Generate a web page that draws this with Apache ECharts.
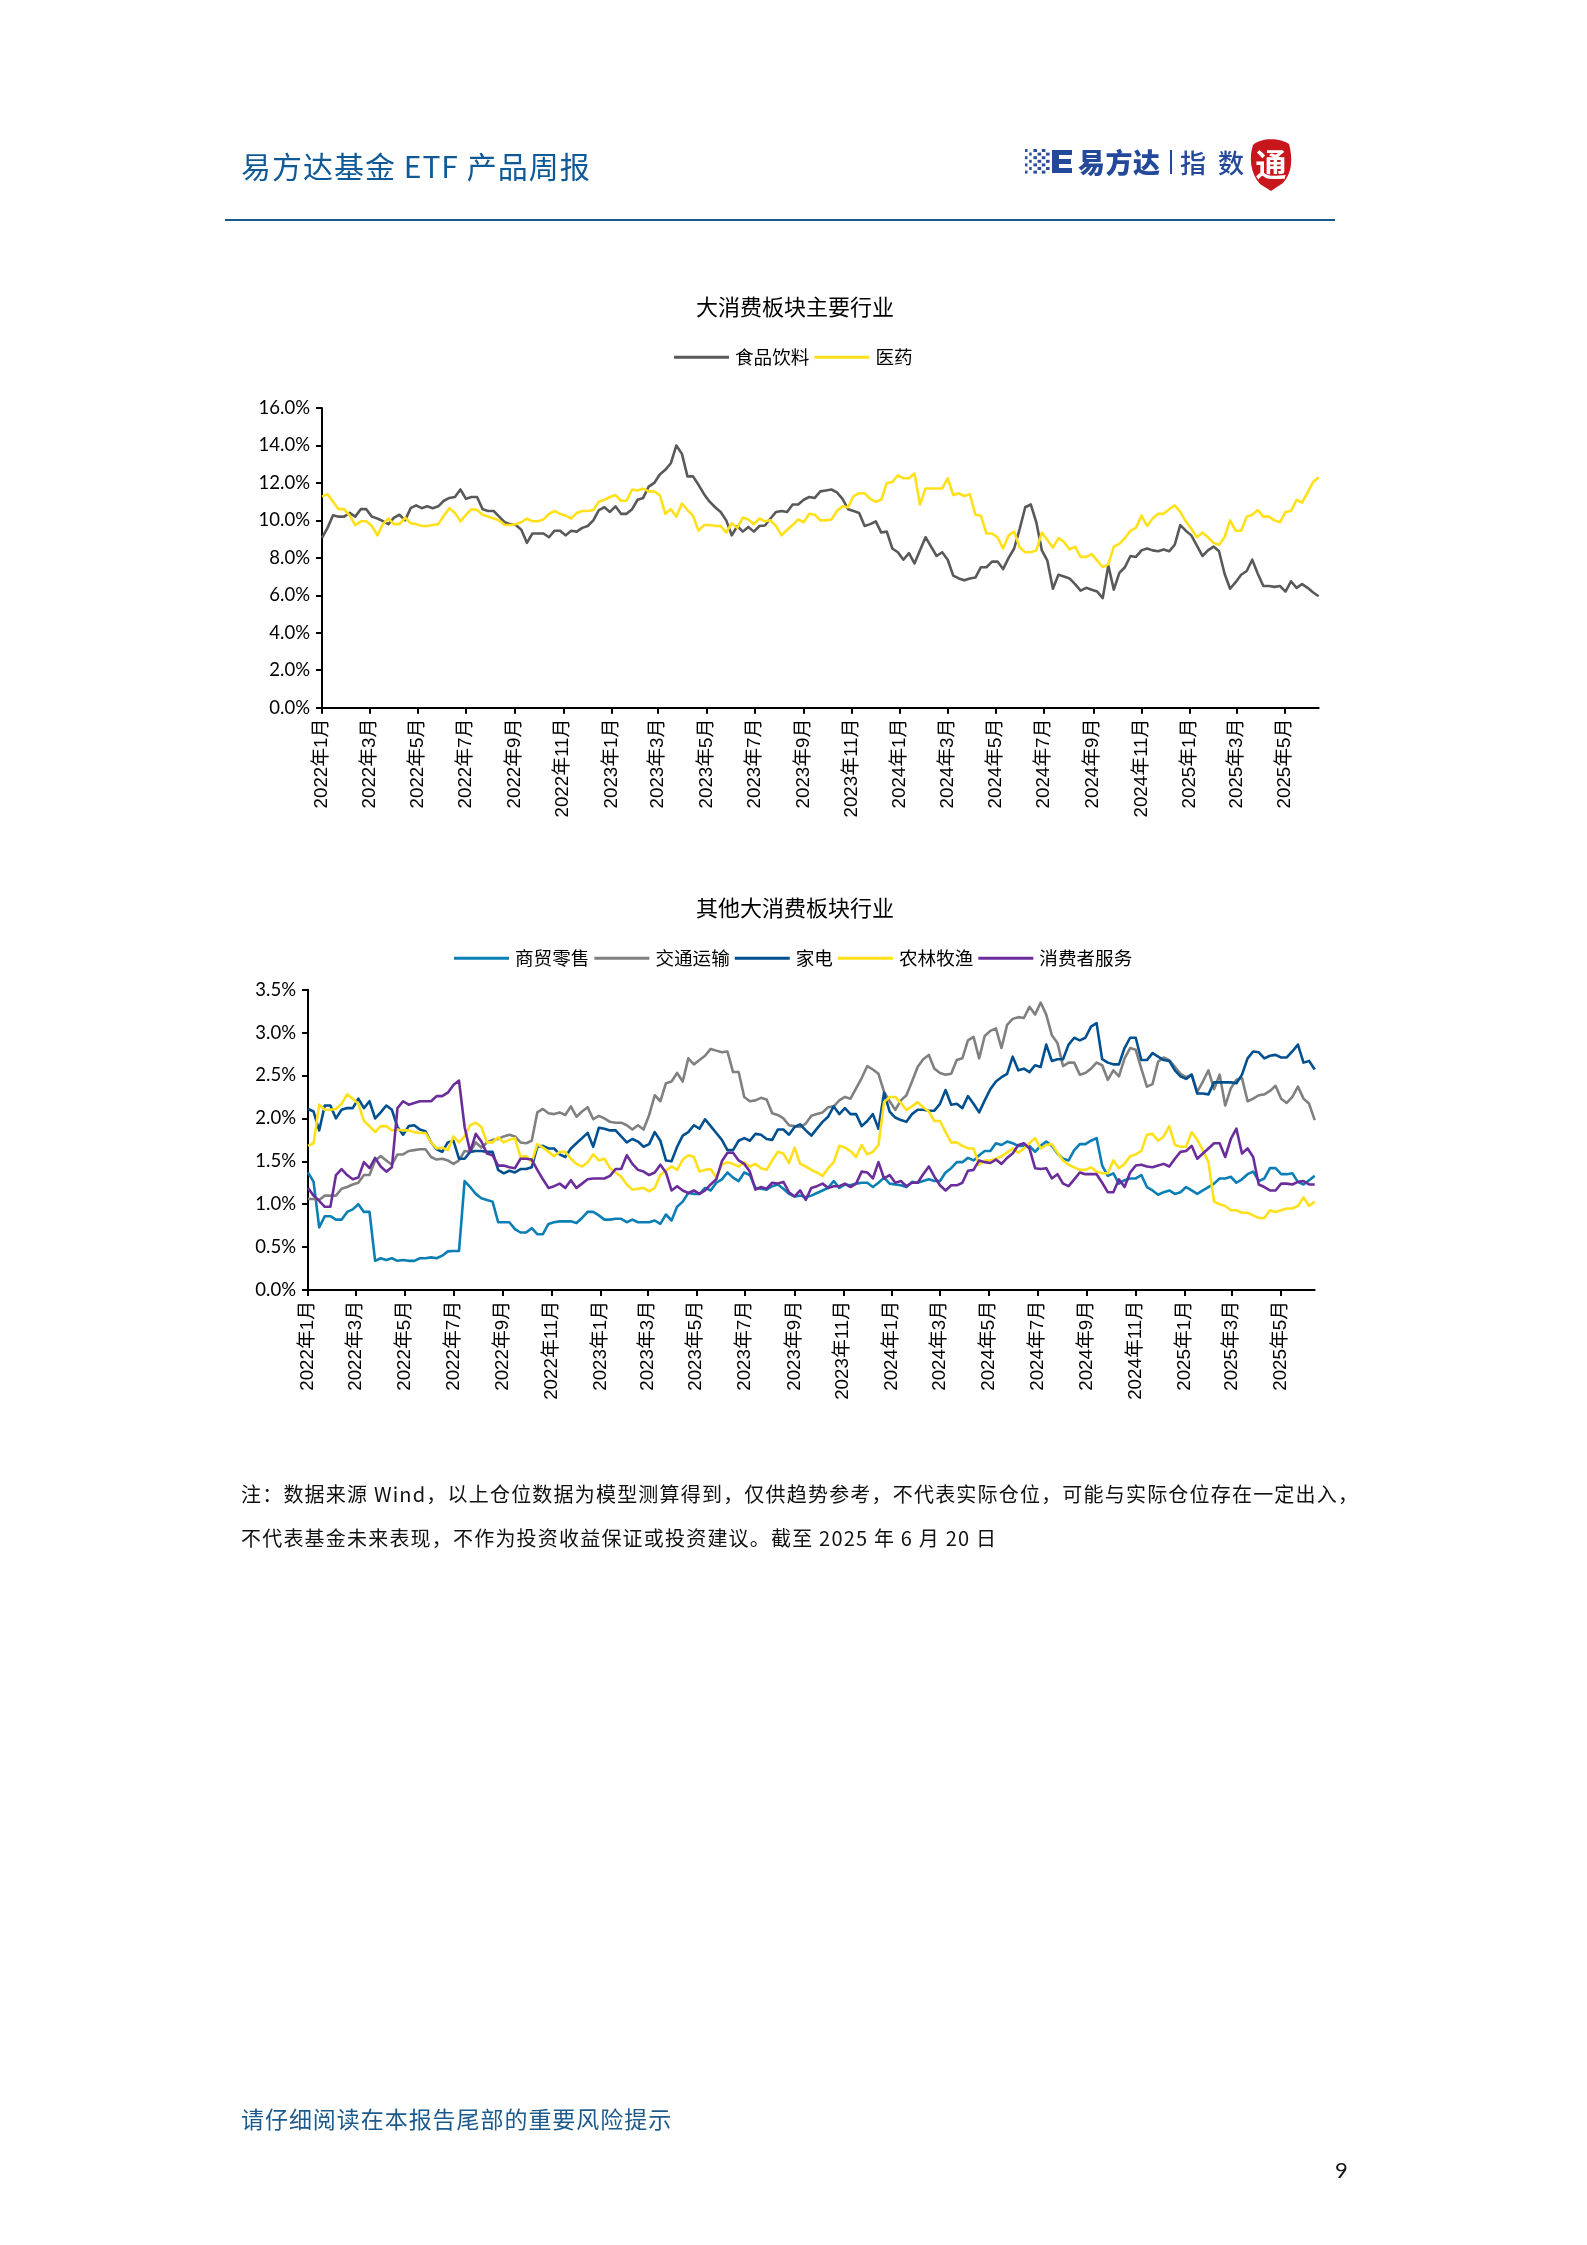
<!DOCTYPE html>
<html><head><meta charset="utf-8">
<script src="https://cdn.jsdelivr.net/npm/echarts@6/dist/echarts.min.js"></script>
<style>
html,body{margin:0;padding:0;background:#fff;width:1587px;height:2245px;overflow:hidden}
#c{position:absolute;left:0;top:0;width:1587px;height:2245px}
.t{position:absolute;white-space:nowrap;font-family:"Noto Sans CJK SC","Noto Sans",sans-serif}
</style></head><body>
<div id="c"></div>
<div class="t" style="left:241px;top:142.5px;font-size:30px;line-height:44px;letter-spacing:1px;color:#0f5a96">易方达基金 ETF 产品周报</div>
<div style="position:absolute;left:225px;top:219px;width:1110px;height:2px;background:#1c5a8c"></div>
<svg id="logo" style="position:absolute;left:1020px;top:135px" width="280" height="60" xmlns="http://www.w3.org/2000/svg"></svg>
<div class="t" style="left:241px;top:1478px;font-size:20px;line-height:32px;letter-spacing:1.2px;color:#111">注：数据来源 Wind，以上仓位数据为模型测算得到，仅供趋势参考，不代表实际仓位，可能与实际仓位存在一定出入，</div>
<div class="t" style="left:241px;top:1522px;font-size:20px;line-height:32px;letter-spacing:1.2px;color:#111">不代表基金未来表现，不作为投资收益保证或投资建议。截至 2025 年 6 月 20 日</div>
<div class="t" style="left:241px;top:2101px;font-size:23px;line-height:34px;letter-spacing:.95px;color:#1c5a8c">请仔细阅读在本报告尾部的重要风险提示</div>
<div class="t" style="left:1335px;top:2154px;font-size:22px;line-height:32px;color:#111;font-family:Lato,sans-serif">9</div>
<script>
const dates=['2021-12-31','2022-01-07','2022-01-14','2022-01-21','2022-01-28','2022-02-04','2022-02-11','2022-02-18','2022-02-25','2022-03-04','2022-03-11','2022-03-18','2022-03-25','2022-04-01','2022-04-08','2022-04-15','2022-04-22','2022-04-29','2022-05-06','2022-05-13','2022-05-20','2022-05-27','2022-06-03','2022-06-10','2022-06-17','2022-06-24','2022-07-01','2022-07-08','2022-07-15','2022-07-22','2022-07-29','2022-08-05','2022-08-12','2022-08-19','2022-08-26','2022-09-02','2022-09-09','2022-09-16','2022-09-23','2022-09-30','2022-10-07','2022-10-14','2022-10-21','2022-10-28','2022-11-04','2022-11-11','2022-11-18','2022-11-25','2022-12-02','2022-12-09','2022-12-16','2022-12-23','2022-12-30','2023-01-06','2023-01-13','2023-01-20','2023-01-27','2023-02-03','2023-02-10','2023-02-17','2023-02-24','2023-03-03','2023-03-10','2023-03-17','2023-03-24','2023-03-31','2023-04-07','2023-04-14','2023-04-21','2023-04-28','2023-05-05','2023-05-12','2023-05-19','2023-05-26','2023-06-02','2023-06-09','2023-06-16','2023-06-23','2023-06-30','2023-07-07','2023-07-14','2023-07-21','2023-07-28','2023-08-04','2023-08-11','2023-08-18','2023-08-25','2023-09-01','2023-09-08','2023-09-15','2023-09-22','2023-09-29','2023-10-06','2023-10-13','2023-10-20','2023-10-27','2023-11-03','2023-11-10','2023-11-17','2023-11-24','2023-12-01','2023-12-08','2023-12-15','2023-12-22','2023-12-29','2024-01-05','2024-01-12','2024-01-19','2024-01-26','2024-02-02','2024-02-09','2024-02-16','2024-02-23','2024-03-01','2024-03-08','2024-03-15','2024-03-22','2024-03-29','2024-04-05','2024-04-12','2024-04-19','2024-04-26','2024-05-03','2024-05-10','2024-05-17','2024-05-24','2024-05-31','2024-06-07','2024-06-14','2024-06-21','2024-06-28','2024-07-05','2024-07-12','2024-07-19','2024-07-26','2024-08-02','2024-08-09','2024-08-16','2024-08-23','2024-08-30','2024-09-06','2024-09-13','2024-09-20','2024-09-27','2024-10-04','2024-10-11','2024-10-18','2024-10-25','2024-11-01','2024-11-08','2024-11-15','2024-11-22','2024-11-29','2024-12-06','2024-12-13','2024-12-20','2024-12-27','2025-01-03','2025-01-10','2025-01-17','2025-01-24','2025-01-31','2025-02-07','2025-02-14','2025-02-21','2025-02-28','2025-03-07','2025-03-14','2025-03-21','2025-03-28','2025-04-04','2025-04-11','2025-04-18','2025-04-25','2025-05-02','2025-05-09','2025-05-16','2025-05-23','2025-05-30','2025-06-06','2025-06-13'];
const tickDates=['2021-12-31','2022-03-01','2022-05-01','2022-07-01','2022-09-01','2022-11-01','2023-01-01','2023-03-01','2023-05-01','2023-07-01','2023-09-01','2023-11-01','2024-01-01','2024-03-01','2024-05-01','2024-07-01','2024-09-01','2024-11-01','2025-01-01','2025-03-01','2025-05-01'];
const tickLabels=['2022年1月','2022年3月','2022年5月','2022年7月','2022年9月','2022年11月','2023年1月','2023年3月','2023年5月','2023年7月','2023年9月','2023年11月','2024年1月','2024年3月','2024年5月','2024年7月','2024年9月','2024年11月','2025年1月','2025年3月','2025年5月'];
const foodBeverage=[9.07,9.6,10.27,10.2,10.2,10.4,10.2,10.6,10.6,10.2,
10.1,9.96,9.8,10.15,10.3,10.0,10.65,10.8,10.65,10.75,
10.65,10.75,11.05,11.2,11.25,11.65,11.15,11.25,11.25,10.6,
10.5,10.5,10.2,9.9,9.8,9.75,9.5,8.8,9.3,
9.3,9.3,9.1,9.45,9.45,9.2,9.45,9.4,9.6,9.7,
10.0,10.55,10.7,10.45,10.75,10.35,10.35,10.6,11.1,11.2,
11.8,12.0,12.45,12.7,13.05,14.0,13.55,12.35,12.35,11.9,
11.4,11.0,10.7,10.45,10.0,9.2,9.7,9.4,9.65,9.4,
9.7,9.73,10.1,10.45,10.5,10.45,10.85,10.85,11.1,11.25,
11.2,11.55,11.6,11.65,11.5,11.15,10.6,10.5,10.4,9.7,
9.8,9.95,9.35,9.4,8.5,8.3,7.9,8.25,7.7,8.4,
9.1,8.6,8.1,8.3,7.9,7.05,6.9,6.8,6.9,6.95,
7.5,7.5,7.8,7.8,7.4,8.0,8.5,9.55,10.7,10.85,
9.9,8.4,7.85,6.35,7.1,7.0,6.9,6.6,6.25,6.4,
6.3,6.2,5.85,7.6,6.3,7.2,7.5,8.1,8.05,8.4,
8.5,8.4,8.35,8.45,8.35,8.7,9.75,9.45,9.2,8.65,
8.1,8.4,8.6,8.35,7.15,6.35,6.7,7.1,7.3,7.9,
7.15,6.5,6.5,6.45,6.5,6.2,6.75,6.4,6.6,6.4,6.15,5.95];
const pharma=[11.27,11.4,11.0,10.6,10.6,10.25,9.75,9.95,9.95,9.7,
9.2,9.8,10.1,9.8,9.8,10.15,9.85,9.8,9.7,9.7,
9.75,9.8,10.25,10.65,10.4,9.95,10.3,10.6,10.55,10.3,
10.2,10.1,10.0,9.75,9.75,9.8,9.9,10.1,9.95,9.95,
10.05,10.35,10.5,10.35,10.25,10.1,10.4,10.5,10.5,
10.55,11.0,11.1,11.25,11.35,11.05,11.05,11.65,11.6,11.7,
11.55,11.55,11.35,10.35,10.6,10.2,10.9,10.55,10.25,9.45,
9.75,9.75,9.7,9.7,9.35,9.85,9.6,10.15,10.05,9.8,
10.1,9.95,10.0,9.7,9.2,9.5,9.75,10.05,9.9,10.35,
10.3,10.0,10.0,10.05,10.5,10.75,10.7,11.3,11.45,11.45,
11.15,11.0,11.1,12.0,12.05,12.4,12.25,12.25,12.5,10.85,
11.7,11.7,11.7,11.7,12.25,11.35,11.45,11.3,11.4,10.3,
10.25,9.3,9.3,9.1,8.5,9.2,9.4,8.55,8.3,8.3,
8.4,9.35,8.95,8.55,9.05,8.85,8.45,8.6,8.05,8.05,
8.2,7.85,7.5,7.65,8.6,8.75,9.05,9.45,9.6,10.25,
9.7,10.1,10.35,10.35,10.6,10.8,10.45,9.95,9.55,9.1,
9.35,9.1,8.8,8.7,9.1,10.0,9.45,9.45,10.2,10.3,
10.55,10.2,10.2,10.0,9.9,10.45,10.5,11.1,10.95,11.5,12.05,12.3];
const retail=[1.37,1.26,.73,.86,.86,.82,.82,.91,.94,1.0,
.91,.91,.34,.37,.35,.37,.34,.35,.34,.34,
.37,.37,.38,.37,.40,.45,.455,.455,1.27,1.2,
1.12,1.07,1.05,1.03,.79,.79,.79,.71,.67,.67,
.72,.65,.65,.77,.79,.8,.8,.8,.78,.84,
.91,.91,.87,.82,.82,.83,.83,.79,.82,.79,
.79,.79,.81,.77,.88,.81,.97,1.03,1.13,1.12,
1.12,1.19,1.16,1.25,1.29,1.37,1.31,1.27,1.37,1.34,
1.19,1.18,1.17,1.21,1.23,1.18,1.12,1.09,1.1,1.08,
1.1,1.13,1.16,1.19,1.27,1.19,1.23,1.22,1.24,
1.25,1.25,1.2,1.25,1.31,1.24,1.23,1.22,1.2,1.26,
1.25,1.27,1.29,1.27,1.27,1.37,1.42,1.49,1.49,1.54,
1.51,1.57,1.62,1.62,1.71,1.69,1.73,1.71,1.68,1.68,
1.68,1.61,1.68,1.73,1.68,1.59,1.53,1.51,1.63,1.7,
1.7,1.74,1.77,1.45,1.33,1.36,1.24,1.28,1.3,1.3,
1.34,1.2,1.16,1.11,1.14,1.16,1.12,1.14,1.2,1.16,
1.12,1.16,1.2,1.24,1.3,1.3,1.32,1.25,1.29,1.35,
1.38,1.27,1.3,1.42,1.42,1.35,1.35,1.36,1.26,1.23,1.28,1.33];
const transport=[1.06,1.06,1.05,1.1,1.1,1.1,1.18,1.2,1.23,1.25,
1.34,1.34,1.51,1.56,1.51,1.46,1.58,1.58,1.62,1.63,
1.64,1.64,1.55,1.52,1.53,1.51,1.47,1.51,1.62,1.61,
1.72,1.66,1.72,1.75,1.76,1.79,1.81,1.79,1.72,1.71,
1.74,2.07,2.11,2.06,2.05,2.07,2.04,2.14,2.02,2.08,
2.13,1.99,2.03,2.0,1.96,1.95,1.95,1.92,1.87,1.92,
1.87,2.04,2.27,2.2,2.41,2.43,2.53,2.43,2.7,2.63,
2.68,2.73,2.81,2.79,2.77,2.78,2.54,2.54,2.25,2.2,
2.21,2.24,2.22,2.06,2.04,2.0,1.92,1.91,1.9,1.94,
2.03,2.05,2.07,2.13,2.14,2.21,2.25,2.23,2.35,2.47,
2.61,2.57,2.52,2.31,2.2,2.1,2.21,2.27,2.43,
2.6,2.69,2.74,2.58,2.53,2.51,2.52,2.68,2.7,2.91,
2.95,2.7,2.96,3.02,3.05,2.82,3.09,3.16,3.18,3.17,
3.3,3.21,3.35,3.21,2.97,2.88,2.61,2.65,2.65,2.51,
2.53,2.58,2.65,2.62,2.45,2.56,2.49,2.7,2.82,2.8,
2.58,2.37,2.4,2.66,2.71,2.68,2.6,2.52,2.48,2.51,
2.31,2.43,2.56,2.34,2.51,2.15,2.35,2.45,2.47,2.2,
2.23,2.27,2.28,2.32,2.38,2.23,2.18,2.25,2.37,2.23,2.17,1.98];
const appliance=[2.11,2.08,1.86,2.15,2.15,2.0,2.1,2.12,2.12,2.23,
2.12,2.2,2.0,2.07,2.15,2.1,1.9,1.81,1.91,1.92,
1.87,1.85,1.72,1.64,1.61,1.72,1.74,1.53,1.53,1.61,
1.62,1.62,1.61,1.61,1.4,1.36,1.39,1.37,1.41,1.41,
1.43,1.67,1.68,1.65,1.65,1.58,1.55,1.65,1.71,1.77,
1.83,1.67,1.89,1.88,1.86,1.86,1.79,1.72,1.76,1.73,
1.67,1.7,1.84,1.74,1.51,1.5,1.67,1.8,1.84,1.92,
1.88,1.99,1.91,1.83,1.75,1.63,1.63,1.74,1.77,1.74,
1.82,1.81,1.76,1.75,1.87,1.87,1.81,1.9,1.93,1.86,
1.8,1.88,1.96,2.02,2.14,2.05,2.12,2.05,2.05,
1.91,1.97,2.05,1.88,2.3,2.08,2.01,1.98,1.96,2.05,
2.1,2.1,2.09,2.09,2.17,2.33,2.16,2.17,2.12,2.26,
2.17,2.07,2.21,2.34,2.43,2.48,2.52,2.72,2.56,2.58,
2.54,2.62,2.6,2.86,2.67,2.69,2.69,2.86,2.94,2.91,
2.94,3.07,3.11,2.69,2.65,2.63,2.63,2.82,2.94,2.94,
2.68,2.68,2.76,2.72,2.68,2.67,2.56,2.49,2.46,2.51,
2.29,2.29,2.28,2.42,2.42,2.42,2.42,2.41,2.51,2.7,
2.78,2.77,2.7,2.73,2.74,2.71,2.71,2.78,2.86,2.65,2.67,2.57];
const agriculture=[1.68,1.71,2.16,2.1,2.1,2.11,2.17,2.28,2.23,2.17,
1.97,1.91,1.84,1.91,1.91,1.86,1.87,1.86,1.86,1.84,
1.83,1.83,1.72,1.65,1.66,1.63,1.79,1.72,1.79,1.92,
1.95,1.9,1.72,1.72,1.78,1.72,1.75,1.77,1.55,1.56,
1.49,1.7,1.66,1.61,1.56,1.61,1.61,1.53,1.47,1.44,
1.49,1.58,1.51,1.53,1.42,1.37,1.32,1.23,1.17,1.18,
1.19,1.15,1.19,1.34,1.39,1.44,1.4,1.52,1.57,1.55,
1.38,1.4,1.41,1.31,1.46,1.49,1.47,1.44,1.49,1.44,
1.47,1.42,1.4,1.51,1.61,1.59,1.48,1.66,1.47,1.44,
1.4,1.37,1.33,1.42,1.49,1.68,1.66,1.62,1.55,
1.69,1.58,1.61,1.69,2.19,2.25,2.25,2.18,2.1,2.14,
2.19,2.13,2.08,1.97,1.97,1.84,1.72,1.72,1.68,1.65,
1.65,1.46,1.51,1.51,1.53,1.56,1.6,1.65,1.6,1.65,
1.71,1.77,1.65,1.69,1.7,1.6,1.51,1.46,1.43,1.4,
1.4,1.43,1.38,1.36,1.36,1.51,1.42,1.47,1.56,1.58,
1.62,1.81,1.82,1.74,1.79,1.91,1.69,1.67,1.67,1.84,
1.75,1.63,1.49,1.03,1.0,.98,.93,.93,.9,.9,
.87,.84,.84,.93,.91,.93,.95,.95,.98,1.08,.98,1.03];
const consumerServices=[1.19,1.1,1.04,.97,.97,1.34,1.41,1.34,1.29,1.31,
1.49,1.42,1.54,1.44,1.38,1.43,2.12,2.2,2.16,2.18,
2.2,2.2,2.2,2.26,2.26,2.3,2.39,2.44,1.9,1.61,
1.82,1.73,1.59,1.57,1.45,1.45,1.43,1.42,1.53,1.53,
1.52,1.4,1.29,1.19,1.21,1.24,1.19,1.28,1.19,1.24,
1.29,1.3,1.3,1.3,1.33,1.41,1.41,1.57,1.47,1.4,
1.38,1.34,1.37,1.46,1.37,1.16,1.21,1.16,1.13,1.16,
1.12,1.16,1.23,1.29,1.5,1.6,1.6,1.51,1.47,1.38,
1.17,1.2,1.18,1.25,1.24,1.26,1.14,1.09,1.16,1.05,
1.19,1.21,1.24,1.19,1.21,1.21,1.24,1.2,1.24,
1.38,1.37,1.3,1.49,1.3,1.34,1.25,1.27,1.21,1.25,
1.25,1.35,1.44,1.32,1.22,1.16,1.22,1.22,1.25,1.39,
1.4,1.51,1.49,1.48,1.52,1.47,1.54,1.59,1.69,1.71,
1.65,1.42,1.41,1.42,1.3,1.35,1.24,1.21,1.29,1.37,
1.35,1.35,1.35,1.25,1.14,1.14,1.29,1.2,1.37,1.45,
1.46,1.44,1.43,1.45,1.47,1.44,1.53,1.61,1.62,1.68,
1.53,1.59,1.65,1.71,1.71,1.55,1.76,1.88,1.59,1.65,
1.55,1.23,1.2,1.16,1.16,1.24,1.24,1.23,1.26,1.27,1.23,1.23];

const CJK='"Noto Sans CJK SC","Noto Sans",sans-serif';
const toMs=d=>new Date(d+'T00:00:00Z').getTime();
const ticks=tickDates.map(toMs);
const xMin=toMs(dates[0]), xMax=toMs(dates[dates.length-1]);
function xAxis(g){return {type:'value',gridIndex:g,min:xMin,max:xMax,scale:true,
  axisLine:{show:true,onZero:false,lineStyle:{color:'#000',width:2}},
  axisTick:{show:true,length:6,lineStyle:{color:'#000',width:2},customValues:ticks},
  splitLine:{show:false},
  axisLabel:{show:true,customValues:ticks,rotate:90,margin:11,fontSize:18.8,color:'#000',fontFamily:'"Liberation Sans","Noto Sans CJK SC",sans-serif',
    hideOverlap:false,showMinLabel:true,showMaxLabel:true,
    formatter:v=>tickLabels[ticks.indexOf(+v)]||''}};}
function yAxis(g,max,step){return {type:'value',gridIndex:g,min:0,max:max,interval:step,
  axisLine:{show:true,onZero:false,lineStyle:{color:'#000',width:2}},
  axisTick:{show:true,length:6,lineStyle:{color:'#000',width:2}},
  splitLine:{show:false},
  axisLabel:{margin:12,fontSize:18.5,color:'#000',fontFamily:'Lato,"Noto Sans",sans-serif',formatter:v=>v.toFixed(1)+'%'}};}
function line(name,vals,color,g){return {name:name,type:'line',xAxisIndex:g,yAxisIndex:g,showSymbol:false,symbol:'none',smooth:false,z:3,
  data:vals.map((v,i)=>[toMs(dates[i]),v]),lineStyle:{color:color,width:2.6,join:'round'},itemStyle:{color:color},animation:false};}
function legend(names,left,top){return {data:names,left:left,top:top,orient:'horizontal',icon:'rect',itemWidth:55,itemHeight:3,itemGap:5,padding:0,
  textStyle:{fontSize:18.6,color:'#000',fontFamily:CJK,padding:[0,0,0,1]}};}

const chart=echarts.init(document.getElementById('c'),null,{renderer:'canvas',width:1587,height:2245});
chart.setOption({
  animation:false,backgroundColor:'#fff',
  title:[
    {text:'大消费板块主要行业',left:790,top:291,textAlign:'center',textStyle:{fontSize:22,fontWeight:'normal',color:'#000',fontFamily:CJK}},
    {text:'其他大消费板块行业',left:790,top:892,textAlign:'center',textStyle:{fontSize:22,fontWeight:'normal',color:'#000',fontFamily:CJK}}
  ],
  legend:[legend(['食品饮料','医药'],674,348),legend(['商贸零售','交通运输','家电','农林牧渔','消费者服务'],454,949)],
  grid:[{left:322,top:408,width:996.7,height:299.7,containLabel:false},{left:308,top:989.7,width:1006.7,height:300.3,containLabel:false}],
  xAxis:[xAxis(0),xAxis(1)],
  yAxis:[yAxis(0,16,2),yAxis(1,3.5,0.5)],
  series:[
    line('食品饮料',foodBeverage,'#595959',0),
    line('医药',pharma,'#FFE01A',0),
    line('商贸零售',retail,'#0A7FB5',1),
    line('交通运输',transport,'#808080',1),
    line('家电',appliance,'#00508F',1),
    line('农林牧渔',agriculture,'#FFE01A',1),
    line('消费者服务',consumerServices,'#6B2D9B',1)
  ]
});

// header logo: decorative mark drawn as plain SVG
(function(){
  const s=document.getElementById('logo');let h='';
  for(let r=0;r<7;r++)for(let c=0;c<6;c++){
    if((r+c)%2)continue;const sz=c<2?2.5:3.6;
    h+=`<rect x="${5+c*4.2}" y="${14+r*3.6}" width="${sz}" height="3" fill="#2a4f9f"/>`;}
  h+='<path d="M32 15h20v5h-13v4h12v5h-12v4h13v5h-20z" fill="#24499a"/>';
  h+='<text x="58" y="38" font-size="27" font-weight="900" fill="#24499a" font-family="Noto Sans CJK SC" textLength="82">易方达</text>';
  h+='<rect x="150" y="15" width="2" height="24" fill="#24499a"/>';
  h+='<text x="160" y="38" font-size="26" font-weight="500" fill="#24499a" font-family="Noto Sans CJK SC" textLength="64">指数</text>';
  h+='<path d="M233 10C241 2 261 3 269 9C273 24 272 38 263 48L251 56L240 49C230 38 229 22 233 10Z" fill="#c8161d"/>';
  h+='<text x="251" y="41" text-anchor="middle" font-size="31" font-weight="700" fill="#fff" font-family="Noto Sans CJK SC">通</text>';
  s.innerHTML=h;
})();
</script>
</body></html>
